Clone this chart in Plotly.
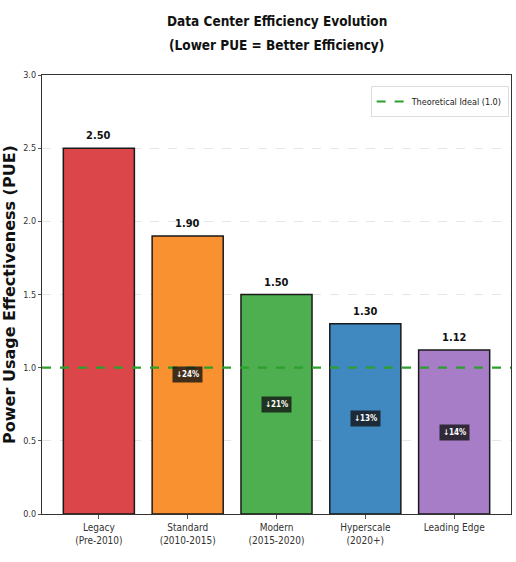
import plotly.graph_objects as go

# PUE by data center generation
categories = ["Legacy<br>(Pre-2010)", "Standard<br>(2010-2015)", "Modern<br>(2015-2020)",
              "Hyperscale<br>(2020+)", "Leading Edge"]
pue_values = [2.50, 1.90, 1.50, 1.30, 1.12]
bar_colors = ["#da4649", "#f99130", "#4daf4f", "#3f88c0", "#a67dc6"]
ideal_pue = 1.0
y_ticks = [0.0, 0.5, 1.0, 1.5, 2.0, 2.5, 3.0]
title_lines = ["Data Center Efficiency Evolution", "(Lower PUE = Better Efficiency)"]

FONT = "DejaVu Sans Condensed, Liberation Sans Narrow, sans-serif"

fig = go.Figure()

fig.add_trace(go.Bar(
    x=categories, y=pue_values,
    marker=dict(color=bar_colors, line=dict(color="#1a1a1a", width=1.5)),
    width=0.8, showlegend=False, hoverinfo="skip",
))

# Legend entry for the ideal reference line
fig.add_trace(go.Scatter(
    x=[None], y=[None], mode="lines", name="Theoretical Ideal (1.0)",
    line=dict(color="#2ca02c", width=2.2, dash="dash"),
))

fig.add_shape(type="line", xref="paper", x0=0, x1=1, yref="y", y0=ideal_pue, y1=ideal_pue,
              line=dict(color="#2ca02c", width=2.2, dash="dash"), layer="above")

# Value labels above bars
for cat, v in zip(categories, pue_values):
    fig.add_annotation(x=cat, y=v, text=f"<b>{v:.2f}</b>", showarrow=False,
                       yanchor="bottom", yshift=4,
                       font=dict(family=FONT, size=11, color="#111111"))

# Reduction badges inside bars
for i in range(1, len(pue_values)):
    prev, cur = pue_values[i - 1], pue_values[i]
    pct = round((prev - cur) / prev * 100)
    fig.add_annotation(x=categories[i], y=cur / 2, text=f"<b>↓{pct}%</b>", showarrow=False,
                       font=dict(family=FONT, size=8, color="white"),
                       bgcolor="rgba(20,20,20,0.8)", borderpad=3)

# Two-line title
for line, ypos in zip(title_lines, [1.122, 1.069]):
    fig.add_annotation(xref="paper", yref="paper", x=0.5, y=ypos, text=f"<b>{line}</b>",
                       showarrow=False, xanchor="center", yanchor="middle",
                       font=dict(family=FONT, size=13.5, color="#111111"))

fig.update_layout(
    width=516, height=562,
    margin=dict(l=37, r=4, t=75, b=48),
    paper_bgcolor="white", plot_bgcolor="white",
    legend=dict(x=0.995, y=0.975, xanchor="right", yanchor="top",
                bgcolor="white", bordercolor="#dddddd", borderwidth=1,
                itemwidth=30, font=dict(family=FONT, size=9, color="#222222")),
    bargap=0.2,
)

fig.update_xaxes(
    range=[-0.64, 4.64], showline=True, linecolor="#333333", linewidth=1.2, mirror=True,
    ticks="outside", ticklen=4, tickcolor="#555555",
    tickfont=dict(family=FONT, size=10, color="#333333"), showgrid=False,
)
fig.update_yaxes(
    range=[0, 3.0], tickvals=y_ticks, tickformat=".1f",
    showline=True, linecolor="#333333", linewidth=1.2, mirror=True,
    ticks="outside", ticklen=3, tickcolor="#555555",
    tickfont=dict(family=FONT, size=9, color="#333333"),
    showgrid=True, gridcolor="#e6e6e6", griddash="dash", gridwidth=0.8,
    title=dict(text="<b>Power Usage Effectiveness (PUE)</b>", standoff=8,
               font=dict(family="DejaVu Sans, sans-serif", size=16, color="#111111")),
)

fig.write_html("out.html")
